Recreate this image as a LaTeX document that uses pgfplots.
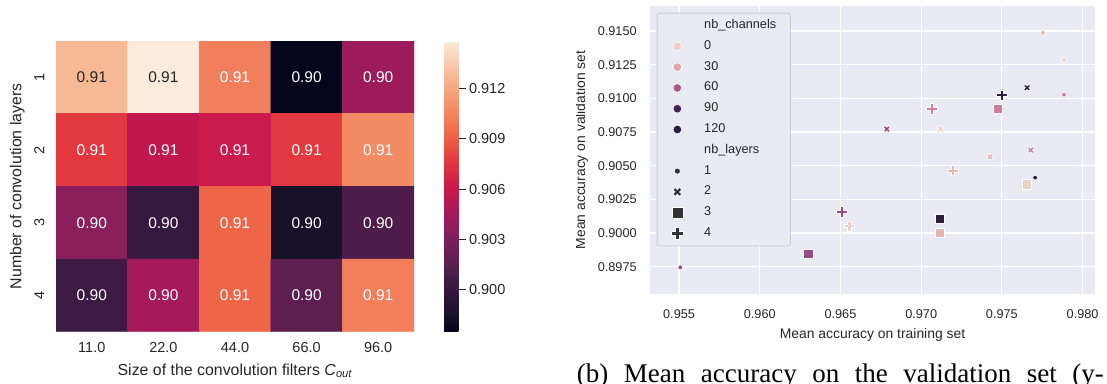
\documentclass[border=0pt]{standalone}
\usepackage{fontspec}
\setmainfont{Liberation Sans}
\newfontfamily\capfont{Liberation Serif}
\usepackage{pgfplots}
\usepackage{pgfplotstable}
\pgfplotsset{compat=1.18}

\definecolor{txt}{HTML}{262626}
\definecolor{bg}{HTML}{EAEAF2}
\definecolor{legbrd}{HTML}{CCCCCC}
\definecolor{mk}{HTML}{333333}
\definecolor{ch0}{RGB}{237,209,203}
\definecolor{ch30}{RGB}{222,166,168}
\definecolor{ch60}{RGB}{165,90,138}
\definecolor{ch90}{RGB}{66,38,79}
\definecolor{ch120}{RGB}{45,30,62}

\pgfdeclareplotmark{Xf}{%
  \pgfpathmoveto{\pgfqpoint{-0.5\pgfplotmarksize}{-\pgfplotmarksize}}%
  \pgfpathlineto{\pgfqpoint{0pt}{-0.5\pgfplotmarksize}}%
  \pgfpathlineto{\pgfqpoint{0.5\pgfplotmarksize}{-\pgfplotmarksize}}%
  \pgfpathlineto{\pgfqpoint{\pgfplotmarksize}{-0.5\pgfplotmarksize}}%
  \pgfpathlineto{\pgfqpoint{0.5\pgfplotmarksize}{0pt}}%
  \pgfpathlineto{\pgfqpoint{\pgfplotmarksize}{0.5\pgfplotmarksize}}%
  \pgfpathlineto{\pgfqpoint{0.5\pgfplotmarksize}{\pgfplotmarksize}}%
  \pgfpathlineto{\pgfqpoint{0pt}{0.5\pgfplotmarksize}}%
  \pgfpathlineto{\pgfqpoint{-0.5\pgfplotmarksize}{\pgfplotmarksize}}%
  \pgfpathlineto{\pgfqpoint{-\pgfplotmarksize}{0.5\pgfplotmarksize}}%
  \pgfpathlineto{\pgfqpoint{-0.5\pgfplotmarksize}{0pt}}%
  \pgfpathlineto{\pgfqpoint{-\pgfplotmarksize}{-0.5\pgfplotmarksize}}%
  \pgfpathclose\pgfusepathqfillstroke}
\pgfdeclareplotmark{Pf}{%
  \pgfpathmoveto{\pgfqpoint{-0.3333\pgfplotmarksize}{-\pgfplotmarksize}}%
  \pgfpathlineto{\pgfqpoint{-0.3333\pgfplotmarksize}{-0.3333\pgfplotmarksize}}%
  \pgfpathlineto{\pgfqpoint{-\pgfplotmarksize}{-0.3333\pgfplotmarksize}}%
  \pgfpathlineto{\pgfqpoint{-\pgfplotmarksize}{0.3333\pgfplotmarksize}}%
  \pgfpathlineto{\pgfqpoint{-0.3333\pgfplotmarksize}{0.3333\pgfplotmarksize}}%
  \pgfpathlineto{\pgfqpoint{-0.3333\pgfplotmarksize}{\pgfplotmarksize}}%
  \pgfpathlineto{\pgfqpoint{0.3333\pgfplotmarksize}{\pgfplotmarksize}}%
  \pgfpathlineto{\pgfqpoint{0.3333\pgfplotmarksize}{0.3333\pgfplotmarksize}}%
  \pgfpathlineto{\pgfqpoint{\pgfplotmarksize}{0.3333\pgfplotmarksize}}%
  \pgfpathlineto{\pgfqpoint{\pgfplotmarksize}{-0.3333\pgfplotmarksize}}%
  \pgfpathlineto{\pgfqpoint{0.3333\pgfplotmarksize}{-0.3333\pgfplotmarksize}}%
  \pgfpathlineto{\pgfqpoint{0.3333\pgfplotmarksize}{-\pgfplotmarksize}}%
  \pgfpathclose\pgfusepathqfillstroke}

% heatmap: column index c (Cout), row r (layers), value v
\pgfplotstableread{
c r v
0 1 0.91285
1 1 0.91487
2 1 0.91027
3 1 0.89745
4 1 0.90411
0 2 0.90772
1 2 0.90567
2 2 0.90616
3 2 0.90772
4 2 0.91079
0 3 0.90362
1 3 0.90000
2 3 0.90923
3 3 0.89846
4 3 0.90104
0 4 0.90052
1 4 0.90463
2 4 0.90923
3 4 0.90158
4 4 0.91025
}\hmdata

% scatter: training accuracy, validation accuracy, nb_channels
\pgfplotstableread{
tr va ch
0.97885 0.91285 11
0.97755 0.91487 22
0.97885 0.91027 44
0.95508 0.89745 66
0.97706 0.90411 96
}\lone
\pgfplotstableread{
tr va ch
0.97119 0.90772 11
0.97427 0.90567 22
0.97679 0.90616 44
0.96787 0.90772 66
0.97656 0.91079 96
}\ltwo
\pgfplotstableread{
tr va ch
0.97654 0.90362 11
0.97117 0.90000 22
0.97476 0.90923 44
0.96301 0.89846 66
0.97117 0.90104 96
}\lthree
\pgfplotstableread{
tr va ch
0.96555 0.90052 11
0.97196 0.90463 22
0.97066 0.90923 44
0.96508 0.90158 66
0.97500 0.91025 96
}\lfour

\begin{document}
\begin{tikzpicture}
\path[use as bounding box] (0pt,0pt) rectangle (1107pt,383pt);

% ---------------- heatmap ----------------
\begin{axis}[
  at={(56pt,51.3pt)}, anchor=south west,
  scale only axis, width=358pt, height=290.7pt,
  xmin=-0.5, xmax=4.5, ymin=0.5, ymax=4.5,
  y dir=reverse,
  axis line style={draw=none},
  major tick length=0pt,
  xtick={0,1,2,3,4}, xticklabels={11.0,22.0,44.0,66.0,96.0},
  ytick={1,2,3,4}, yticklabels={1,2,3,4},
  ticklabel style={font=\fontsize{14.5}{17}\selectfont, color=txt},
  xticklabel shift=7.5pt,
  yticklabel style={rotate=90, anchor=south},
  yticklabel shift=8pt,
  xlabel={Size of the convolution filters \textit{C}\textsubscript{\textit{out}}},
  ylabel={Number of convolution layers},
  label style={font=\fontsize{15.9}{19}\selectfont, color=txt},
  xlabel style={at={(axis description cs:0.5,-0.149)}, anchor=base},
  ylabel style={at={(axis description cs:-0.0966,0.5)}, anchor=base},
  colormap={rocket}{rgb255(0pt)=(3,5,26); rgb255(60pt)=(24,17,42); rgb255(146pt)=(54,25,62); rgb255(176pt)=(61,27,68); rgb255(206pt)=(78,29,75); rgb255(237pt)=(92,31,80); rgb255(354pt)=(139,30,92); rgb255(380pt)=(154,27,91); rgb255(412pt)=(166,25,90); rgb255(472pt)=(192,24,78); rgb255(500pt)=(203,27,76); rgb255(590pt)=(225,57,63); rgb255(676pt)=(239,101,72); rgb255(766pt)=(243,140,100); rgb255(884pt)=(246,185,148); rgb255(1000pt)=(250,235,221)},
  point meta min=0.89745, point meta max=0.91487,
  /pgf/number format/assume math mode=true,
  colorbar,
  colorbar style={
    at={(parent axis.north east)}, anchor=north west, xshift=21.7pt,
    scale only axis, width=14.3pt, height=290.7pt,
    axis line style={draw=none},
    ytick={0.900,0.903,0.906,0.909,0.912},
    ytick pos=right, yticklabel pos=right,
    major tick length=7pt, tick align=outside,
    yticklabel shift=0pt,
    major tick style={draw=txt, line width=1pt},
    yticklabel style={font=\fontsize{14.5}{17}\selectfont, color=txt, rotate=0, anchor=west,
      /pgf/number format/.cd, fixed, fixed zerofill, precision=3, assume math mode=true},
    scaled y ticks=false,
  },
]
\addplot[matrix plot*, mesh/cols=5, mesh/rows=4, point meta=explicit]
  table[x=c, y=r, meta=v] {\hmdata};
\addplot[only marks, mark=none, nodes near coords, point meta=\thisrow{v},
  every node near coord/.append style={anchor=center, font=\fontsize{15.5}{18}\selectfont, color=white,
    /pgf/number format/.cd, fixed, fixed zerofill, precision=2, assume math mode=true}]
  table[x=c, y expr={\thisrow{v}>0.912 ? nan : \thisrow{r}}] {\hmdata};
\addplot[only marks, mark=none, nodes near coords, point meta=\thisrow{v},
  every node near coord/.append style={anchor=center, font=\fontsize{15.5}{18}\selectfont, color=txt,
    /pgf/number format/.cd, fixed, fixed zerofill, precision=2, assume math mode=true}]
  table[x=c, y expr={\thisrow{v}>0.912 ? \thisrow{r} : nan}] {\hmdata};
\end{axis}

% ---------------- scatter ----------------
\begin{scope}
\clip (576pt,0pt) rectangle (1107pt,383pt);
\begin{axis}[
  at={(650pt,88.7pt)}, anchor=south west,
  scale only axis, width=445pt, height=288.6pt,
  xmin=0.95320, xmax=0.98077, ymin=0.89545, ymax=0.91688,
  axis background/.style={fill=bg},
  axis line style={draw=none}, major tick length=0pt,
  grid=major, major grid style={white, line width=1.2pt},
  xtick={0.955,0.96,0.965,0.97,0.975,0.98},
  ytick={0.8975,0.9,0.9025,0.905,0.9075,0.91,0.9125,0.915},
  scaled ticks=false,
  xticklabel style={/pgf/number format/.cd, fixed, fixed zerofill, precision=3},
  yticklabel style={/pgf/number format/.cd, fixed, fixed zerofill, precision=4},
  ticklabel style={font=\fontsize{12.7}{15}\selectfont, color=txt},
  xticklabel shift=11.8pt, yticklabel shift=9.8pt,
  xlabel={Mean accuracy on training set},
  ylabel={Mean accuracy on validation set},
  label style={font=\fontsize{13.9}{16}\selectfont, color=txt},
  xlabel style={at={(axis description cs:0.5,-0.1525)}, anchor=base},
  ylabel style={at={(axis description cs:-0.146,0.5)}, anchor=base},
  colormap={cubehelix}{rgb255(0pt)=(237,209,203); rgb255(20pt)=(225,171,170); rgb255(40pt)=(200,127,154); rgb255(60pt)=(160,85,136); rgb255(80pt)=(104,52,110); rgb255(100pt)=(45,30,62)},
  point meta min=11, point meta max=96,
  /pgf/number format/assume math mode=true,
  legend image code/.code={\path (-10pt,0pt) (10pt,0pt); \draw[#1] plot coordinates {(0pt,0pt)};},
  legend cell align=left,
  legend style={
    at={(axis description cs:0.01506,0.9757)}, anchor=north west,
    fill=bg, draw=legbrd, line width=0.8pt, rounded corners=2.5pt,
    font=\fontsize{12.7}{15}\selectfont, text=txt,
    inner xsep=10pt, inner ysep=2pt,
    column sep=12.4pt,
    nodes={text height=9pt, text depth=3pt, inner ysep=4.4pt, inner xsep=4.2pt},
  },
  scatter/use mapped color={draw=white, fill=mapped color},
]
\addplot[scatter, only marks, mark=*, mark size=2.4pt, scatter src=explicit,
  mark options={line width=0.6pt}, forget plot]
  table[x=tr, y=va, meta=ch] {\lone};
\addplot[scatter, only marks, mark=Xf, mark size=3.4pt, scatter src=explicit,
  mark options={line width=0.6pt}, forget plot]
  table[x=tr, y=va, meta=ch] {\ltwo};
\addplot[scatter, only marks, mark=square*, mark size=4.7pt, scatter src=explicit,
  mark options={line width=0.6pt}, forget plot]
  table[x=tr, y=va, meta=ch] {\lthree};
\addplot[scatter, only marks, mark=Pf, mark size=5.1pt, scatter src=explicit,
  mark options={line width=0.6pt}, forget plot]
  table[x=tr, y=va, meta=ch] {\lfour};

\addlegendimage{empty legend}\addlegendentry{nb\_channels}
\addlegendimage{only marks, mark=*, mark size=4.3pt, fill=ch0, draw=white, line width=0.5pt}\addlegendentry{0}
\addlegendimage{only marks, mark=*, mark size=4.3pt, fill=ch30, draw=white, line width=0.5pt}\addlegendentry{30}
\addlegendimage{only marks, mark=*, mark size=4.3pt, fill=ch60, draw=white, line width=0.5pt}\addlegendentry{60}
\addlegendimage{only marks, mark=*, mark size=4.3pt, fill=ch90, draw=white, line width=0.5pt}\addlegendentry{90}
\addlegendimage{only marks, mark=*, mark size=4.3pt, fill=ch120, draw=white, line width=0.5pt}\addlegendentry{120}
\addlegendimage{empty legend}\addlegendentry{nb\_layers}
\addlegendimage{only marks, mark=*, mark size=3pt, fill=mk, draw=white, line width=0.5pt}\addlegendentry{1}
\addlegendimage{only marks, mark=Xf, mark size=4.3pt, fill=mk, draw=white, line width=0.5pt}\addlegendentry{2}
\addlegendimage{only marks, mark=square*, mark size=5.5pt, fill=mk, draw=white, line width=0.5pt}\addlegendentry{3}
\addlegendimage{only marks, mark=Pf, mark size=6pt, fill=mk, draw=white, line width=0.5pt}\addlegendentry{4}
\end{axis}
\end{scope}

\node[anchor=base west, inner sep=0pt] at (576.7pt,0.5pt)
  {\capfont\fontsize{27}{32}\selectfont\hbox to 527pt{(b) Mean accuracy on the validation set (y-}};
\end{tikzpicture}
\end{document}
